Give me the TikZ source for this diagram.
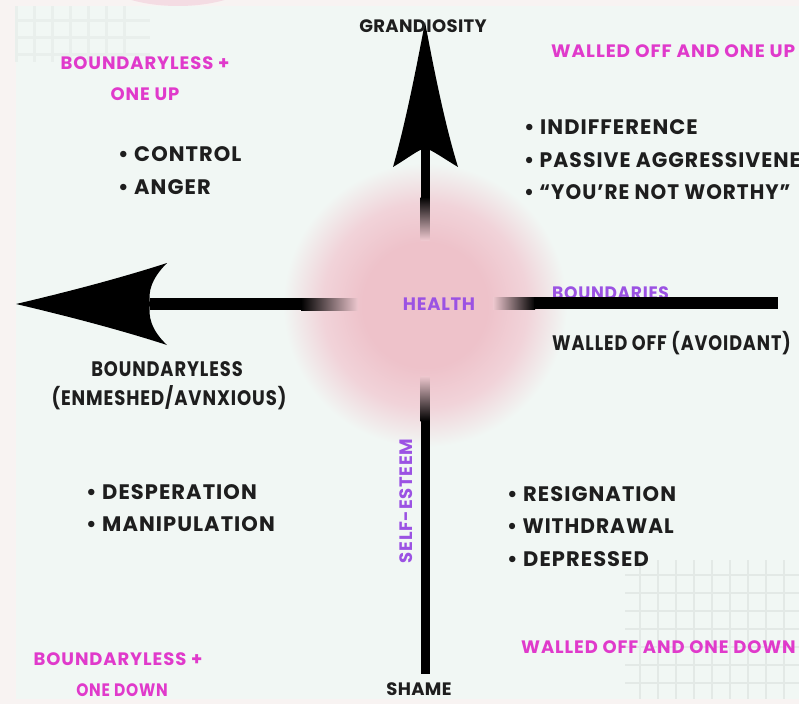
\documentclass[tikz,border=0pt]{standalone}
\usepackage{fontspec}
\setmainfont{Poppins}
\definecolor{bgc}{HTML}{F1F7F4}
\definecolor{edgec}{HTML}{F8F3F2}
\definecolor{blobc}{HTML}{F4DCE3}
\definecolor{pinkc}{HTML}{EEC2CA}
\definecolor{pinkmid}{HTML}{F1D3D9}
\definecolor{fadec}{HTML}{EEC8CF}
\definecolor{magc}{HTML}{E03ACB}
\definecolor{purc}{HTML}{9B52E3}
\definecolor{inkc}{HTML}{1E1E1E}
\definecolor{gridc}{HTML}{E9EFEC}
\definecolor{gridd}{HTML}{E3E9E6}
\pgfdeclareradialshading{healthglow}{\pgfpoint{0bp}{0bp}}{color(0bp)=(pinkc); color(11bp)=(pinkc); color(18bp)=(pinkmid); color(25bp)=(bgc); color(50bp)=(bgc)}
\tikzset{
  blk/.style={font=\bfseries\fontsize{21}{24}\selectfont\addfontfeatures{LetterSpace=5}, text=inkc, inner sep=0pt},
  mag/.style={font=\bfseries\fontsize{18}{21}\selectfont\addfontfeatures{LetterSpace=5}, text=magc, inner sep=0pt},
  pur/.style={font=\bfseries\fontsize{18}{21}\selectfont\addfontfeatures{LetterSpace=4}, text=purc, inner sep=0pt},
  axisfill/.style={fill=black},
}
\begin{document}
\begin{tikzpicture}[x=1pt,y=-1pt]
\useasboundingbox (0,0) rectangle (799,704);
\clip (0,0) rectangle (799,704);
% background
\fill[edgec] (0,0) rectangle (799,704);
\fill[blobc] (178,-28) ellipse (82pt and 34pt);
\fill[bgc] (16,6) rectangle (799,699);
% grid patterns
\foreach \gx in {16,34,...,140} {\draw[gridc, line width=3pt] (\gx,6) -- (\gx,62);}
\foreach \gy in {20,37,54} {\draw[gridc, line width=3pt] (16,\gy) -- (150,\gy);}
\foreach \gx in {640,658,...,799} {\draw[gridd, line width=2pt] (\gx,560) -- (\gx,699);}
\foreach \gy in {575,593,...,699} {\draw[gridd, line width=2pt] (625,\gy) -- (799,\gy);}
% glow
\shade[shading=healthglow] (425,305) circle (142pt);

% coordinates
\coordinate (ttip) at (425,22);
\coordinate (tnotch) at (425,148);
\coordinate (ltip) at (16,304);
\coordinate (lnotch) at (150,304);
\coordinate (bend) at (425,674);
\coordinate (rend) at (778,303);

% top arrow
\fill[axisfill] (ttip) .. controls (416,70) and (405,125) .. (393,167)
  .. controls (408,158) and (418,150) .. (tnotch)
  .. controls (432,150) and (443,158) .. (458,167)
  .. controls (445,125) and (434,70) .. (ttip);
\fill[axisfill] ([xshift=-4.5pt]tnotch) rectangle ([xshift=4.5pt,yshift=-50pt]tnotch);
\shade[top color=black, bottom color=fadec] ([xshift=-4.5pt,yshift=-49pt]tnotch) rectangle ([xshift=4.5pt,yshift=-92pt]tnotch);
% bottom shaft
\fill[axisfill] ([xshift=-4.5pt]bend) rectangle ([xshift=4.5pt,yshift=254pt]bend);
\shade[top color=fadec, bottom color=black] ([xshift=-4.5pt,yshift=298pt]bend) rectangle ([xshift=4.5pt,yshift=253pt]bend);
% left arrow
\fill[axisfill] (ltip) .. controls (80,289) and (130,275) .. (167,263)
  .. controls (151,279) and (148,292) .. (lnotch)
  .. controls (148,316) and (151,330) .. (167,345)
  .. controls (130,333) and (80,319) .. (ltip);
\fill[axisfill] ([yshift=6pt]lnotch) rectangle ([xshift=152pt,yshift=-6pt]lnotch);
\shade[left color=black, right color=fadec] ([xshift=151pt,yshift=6pt]lnotch) rectangle ([xshift=208pt,yshift=-6pt]lnotch);

% texts
\node[blk, font=\bfseries\fontsize{18}{20}\selectfont\addfontfeatures{LetterSpace=2}] (grand) at (423,26) {GRANDIOSITY};
\node[mag] (bl1) at (145,63) {BOUNDARYLESS +};
\node[mag] (bl2) at (145,94) {ONE UP};
\node[blk, anchor=west] (ctl) at (118,154) {• CONTROL};
\node[blk, anchor=west] (ang) at (118,187) {• ANGER};
\node[mag, anchor=west, xscale=1.03] (wou) at (551,51) {WALLED OFF AND ONE UP};
\node[blk, anchor=west] (ind) at (524,127) {• INDIFFERENCE};
\node[blk, anchor=west, xscale=0.97] (pas) at (524,160) {• PASSIVE AGGRESSIVENESS};
\node[blk, anchor=west, xscale=0.95] (you) at (524,192) {• “YOU’RE NOT WORTHY”};
\node[pur] (health) at (439,304) {HEALTH};
\node[pur, anchor=base west, xscale=0.95] (bnd) at (552,299) {BOUNDARIES};
% right shaft
\shade[left color=fadec, right color=black] ([xshift=-285pt,yshift=6pt]rend) rectangle ([xshift=-243pt,yshift=-6pt]rend);
\fill[axisfill] ([xshift=-244pt,yshift=6pt]rend) rectangle ([yshift=-6pt]rend);
\node[blk, anchor=west, xscale=0.84] (wav) at (552,343) {WALLED OFF (AVOIDANT)};
\node[blk, xscale=0.85] (bless) at (167,369) {BOUNDARYLESS};
\node[blk, xscale=0.86] (enm) at (169,398) {(ENMESHED/AVNXIOUS)};
\node[pur, rotate=90] (self) at (406,501) {SELF-ESTEEM};
\node[blk, anchor=west] (des) at (86,492) {• DESPERATION};
\node[blk, anchor=west] (man) at (86,524) {• MANIPULATION};
\node[blk, anchor=west] (res) at (507,494) {• RESIGNATION};
\node[blk, anchor=west, xscale=0.96] (wit) at (507,526) {• WITHDRAWAL};
\node[blk, anchor=west] (dep) at (507,559) {• DEPRESSED};
\node[mag, anchor=west] (wod) at (521,647) {WALLED OFF AND ONE DOWN};
\node[mag] (bl3) at (118,659) {BOUNDARYLESS +};
\node[mag, xscale=0.86] (bl4) at (122,690) {ONE DOWN};
\node[blk, font=\bfseries\fontsize{18}{20}\selectfont\addfontfeatures{LetterSpace=2}] (shame) at (419,689) {SHAME};
\end{tikzpicture}
\end{document}
